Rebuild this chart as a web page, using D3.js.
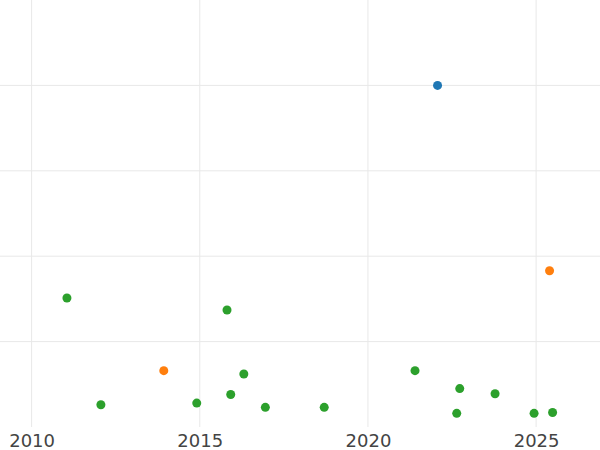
<!DOCTYPE html>
<html>
<head>
<meta charset="utf-8">
<script src="https://cdn.jsdelivr.net/npm/d3@7"></script>
<style>
  body { margin: 0; background: #fff; }
  .grid line { stroke: #e8e8e8; stroke-width: 1; }
  .x.axis text { font-family: "DejaVu Sans", sans-serif; font-size: 18px; fill: #444; }
</style>
</head>
<body>
<script>
// Series data (year, value)
var blueYears = [2022.07];
var blueValues = [4.00];

var orangeYears = [2013.93, 2025.40];
var orangeValues = [0.66, 1.83];

var greenYears = [2011.05, 2012.06, 2014.91, 2015.81, 2015.92, 2016.31, 2016.95,
                  2018.70, 2021.40, 2022.64, 2022.73, 2023.78, 2024.94, 2025.49];
var greenValues = [1.51, 0.26, 0.28, 1.37, 0.38, 0.62, 0.23,
                   0.23, 0.66, 0.16, 0.45, 0.39, 0.16, 0.17];

// Tick labels
var xTicks = [2010, 2015, 2020, 2025];
var yTicks = [1, 2, 3, 4];

// Series list with colours
var series = [
  { years: blueYears, values: blueValues, color: "#1f77b4" },
  { years: orangeYears, values: orangeValues, color: "#ff7f0e" },
  { years: greenYears, values: greenValues, color: "#2ca02c" }
];

// Size of the drawing
var width = 600;
var height = 427;

var svg = d3.select("body").append("svg")
    .attr("width", 600)
    .attr("height", 450);

// Scales
var x = d3.scaleLinear()
    .domain([2009.06, 2026.9])
    .range([0, width]);

var y = d3.scaleLinear()
    .domain([0, 5])
    .range([height, 0]);

// Vertical grid
svg.append("g")
   .attr("class", "grid")
   .selectAll("line")
   .data(xTicks)
   .enter().append("line")
   .attr("x1", function(d) { return x(d); })
   .attr("x2", function(d) { return x(d); })
   .attr("y1", 0)
   .attr("y2", height);

// Horizontal grid
svg.append("g")
   .attr("class", "grid")
   .selectAll("line")
   .data(yTicks)
   .enter().append("line")
   .attr("x1", 0)
   .attr("x2", width)
   .attr("y1", function(d) { return y(d); })
   .attr("y2", function(d) { return y(d); });

// X-axis (labels only)
var xAxis = d3.axisBottom(x)
    .tickValues(xTicks)
    .tickFormat(d3.format("d"))
    .tickSize(0)
    .tickPadding(7);

var gx = svg.append("g")
   .attr("class", "x axis")
   .attr("transform", "translate(0," + height + ")")
   .call(xAxis);
gx.select(".domain").remove();
gx.selectAll("text").attr("font-family", null).attr("font-size", null);

// Points for each series
series.forEach(function(s) {
  svg.append("g")
     .selectAll("circle")
     .data(d3.zip(s.years, s.values))
     .enter()
     .append("circle")
     .attr("cx", function(d) { return x(d[0]); })
     .attr("cy", function(d) { return y(d[1]); })
     .attr("r", 4.5)
     .style("fill", s.color);
});
</script>
</body>
</html>
